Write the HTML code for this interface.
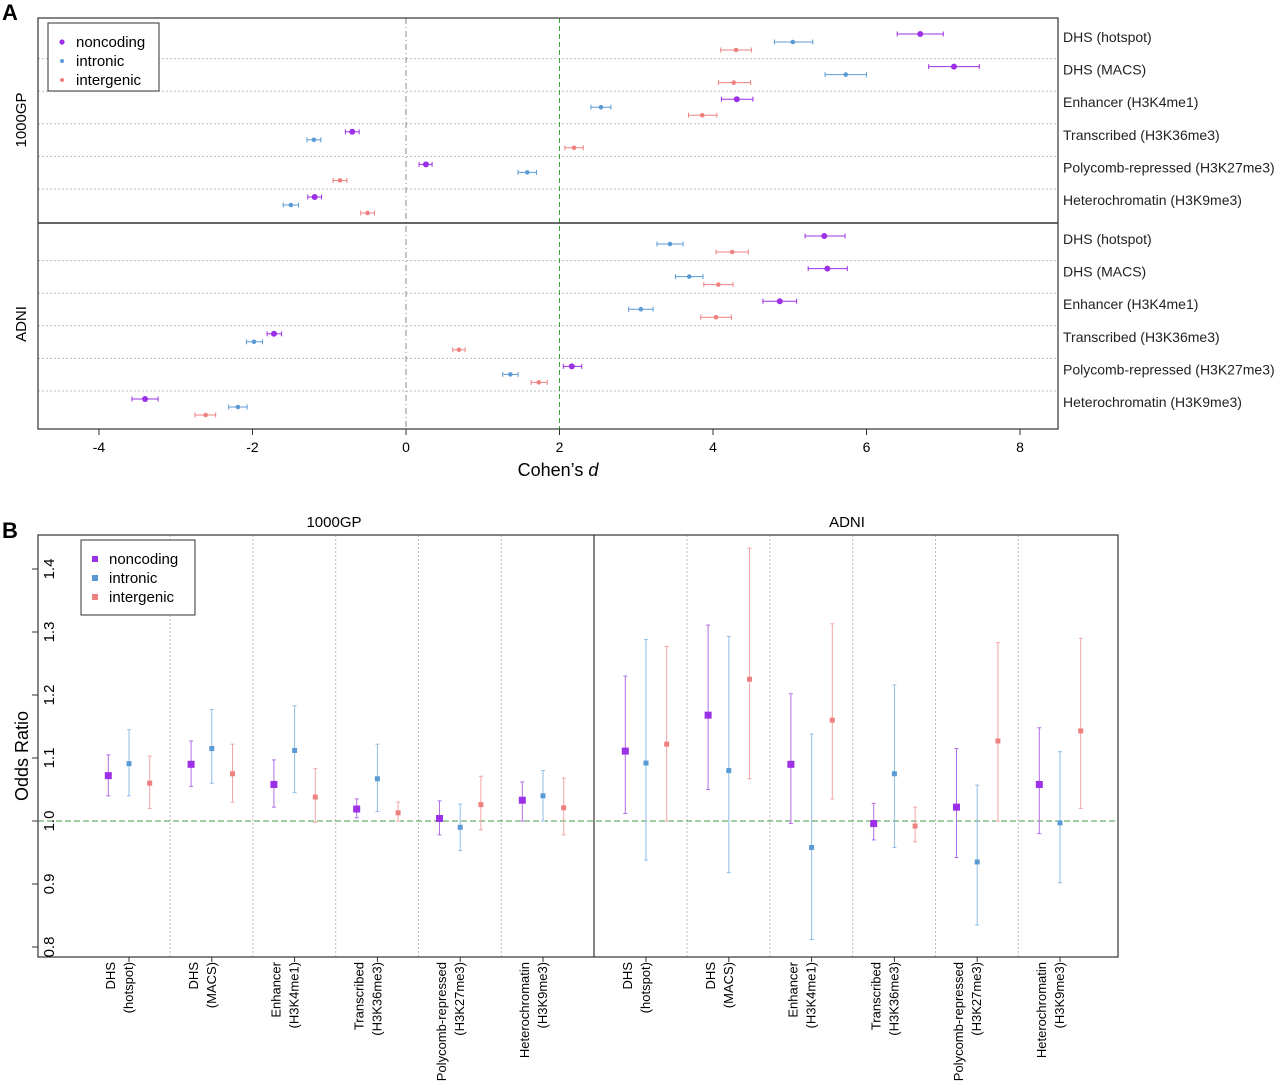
<!DOCTYPE html>
<html><head><meta charset="utf-8"><style>
body{margin:0;background:#fff;}
svg{display:block;font-family:"Liberation Sans",sans-serif;}
</style></head><body>
<svg id="fig" width="1280" height="1092"></svg>
<script>
const features = ["DHS (hotspot)","DHS (MACS)","Enhancer (H3K4me1)","Transcribed (H3K36me3)","Polycomb-repressed (H3K27me3)","Heterochromatin (H3K9me3)"];
const featTop = [["DHS","(hotspot)"],["DHS","(MACS)"],["Enhancer","(H3K4me1)"],["Transcribed","(H3K36me3)"],["Polycomb-repressed","(H3K27me3)"],["Heterochromatin","(H3K9me3)"]];
const cohorts = ["1000GP","ADNI"];
const seriesNames = ["noncoding","intronic","intergenic"];
// Panel A Cohen's d: [feature][series] = [est, lo, hi]
const dGP = [
 [[6.70,6.40,7.00],[5.04,4.80,5.30],[4.30,4.10,4.50]],
 [[7.14,6.81,7.47],[5.73,5.46,6.00],[4.27,4.07,4.49]],
 [[4.31,4.11,4.52],[2.54,2.41,2.67],[3.86,3.68,4.05]],
 [[-0.70,-0.79,-0.61],[-1.20,-1.29,-1.11],[2.19,2.07,2.31]],
 [[0.26,0.17,0.34],[1.58,1.46,1.70],[-0.86,-0.95,-0.77]],
 [[-1.19,-1.28,-1.10],[-1.50,-1.60,-1.40],[-0.50,-0.59,-0.41]]];
const dADNI = [
 [[5.45,5.20,5.72],[3.44,3.27,3.61],[4.25,4.04,4.46]],
 [[5.49,5.24,5.75],[3.69,3.51,3.87],[4.07,3.88,4.26]],
 [[4.87,4.65,5.09],[3.06,2.90,3.22],[4.04,3.84,4.24]],
 [[-1.72,-1.81,-1.62],[-1.98,-2.08,-1.87],[0.69,0.61,0.77]],
 [[2.16,2.05,2.29],[1.36,1.26,1.46],[1.73,1.63,1.84]],
 [[-3.40,-3.57,-3.23],[-2.19,-2.31,-2.07],[-2.61,-2.75,-2.48]]];
const dTicks = [-4,-2,0,2,4,6,8];
// Panel B odds ratios [feature][series] = [est, lo, hi]
const orGP = [
 [[1.072,1.040,1.105],[1.091,1.040,1.145],[1.060,1.020,1.103]],
 [[1.090,1.055,1.127],[1.115,1.060,1.177],[1.075,1.030,1.122]],
 [[1.058,1.022,1.097],[1.112,1.045,1.183],[1.038,0.998,1.083]],
 [[1.019,1.005,1.035],[1.067,1.015,1.122],[1.013,1.000,1.030]],
 [[1.004,0.978,1.032],[0.990,0.953,1.027],[1.026,0.986,1.071]],
 [[1.033,1.000,1.062],[1.040,1.000,1.080],[1.021,0.978,1.068]]];
const orADNI = [
 [[1.111,1.012,1.230],[1.092,0.938,1.288],[1.122,1.000,1.277]],
 [[1.168,1.050,1.311],[1.080,0.918,1.293],[1.225,1.067,1.433]],
 [[1.090,0.996,1.202],[0.958,0.812,1.138],[1.160,1.035,1.313]],
 [[0.996,0.970,1.028],[1.075,0.958,1.216],[0.992,0.967,1.022]],
 [[1.022,0.942,1.115],[0.935,0.835,1.057],[1.127,1.000,1.283]],
 [[1.058,0.980,1.148],[0.997,0.902,1.110],[1.143,1.020,1.290]]];
const orTicks = [0.8,0.9,1.0,1.1,1.2,1.3,1.4];

const colors = ["#9b30e6","#5b9bd5","#ee8080"];
const barColorsB = ["#b26de8","#8fbde6","#f2a5a5"];
const NS="http://www.w3.org/2000/svg";
const svg=document.getElementById('fig');
function mk(tag,attrs,parent,name,inter){const e=document.createElementNS(NS,tag);for(const k in attrs)e.setAttribute(k,attrs[k]);
 
 
 (parent||svg).appendChild(e);return e;}
function txt(s,attrs,name,parent){const e=mk('text',attrs,parent,name,false);e.textContent=s;return e;}

// ---------- Panel A ----------
const xA=v=>406+v*76.75;
const AL=38,AR=1058,AT=18,AB=429,AM=223;
const yA=(c,f,s)=>(c?236:34)+f*32.6+s*8;
txt("A",{x:2,y:20,"font-size":22,"font-weight":"bold"},"panel-a-label");
const gA=mk('g',{},svg,'panel-a-plot',false);
for(let c=0;c<2;c++)for(let f=1;f<6;f++){const y=yA(c,f,0)-8;
 mk('line',{x1:AL,x2:AR,y1:y,y2:y,stroke:"#bbb","stroke-dasharray":"2,2"},gA,'row-separator',false);}
mk('line',{x1:xA(0),x2:xA(0),y1:AT,y2:AB,stroke:"#888","stroke-dasharray":"6,3,1,3"},gA,'zero-line',false);
mk('line',{x1:xA(2),x2:xA(2),y1:AT,y2:AB,stroke:"#3aa03a","stroke-dasharray":"5,3"},gA,'threshold-line',false);
[dGP,dADNI].forEach((D,c)=>{
 D.forEach((row,f)=>row.forEach((v,s)=>{
  const y=yA(c,f,s),col=colors[s];
  const g=mk('g',{},gA,`point-${cohorts[c]}-${seriesNames[s]}-${f}`,false);
  mk('line',{x1:xA(v[1]),x2:xA(v[2]),y1:y,y2:y,stroke:col,"stroke-width":1},g,'error-bar',false);
  mk('line',{x1:xA(v[1]),x2:xA(v[1]),y1:y-2.5,y2:y+2.5,stroke:col},g,'error-cap',false);
  mk('line',{x1:xA(v[2]),x2:xA(v[2]),y1:y-2.5,y2:y+2.5,stroke:col},g,'error-cap',false);
  mk('circle',{cx:xA(v[0]),cy:y,r:s==0?3:2.3,fill:col},g,'point-marker',false);
 }));
 features.forEach((f,i)=>txt(f,{x:1063,y:yA(c,i,0)+8,"font-size":14,fill:"#222"},'feature-label'));
});
mk('rect',{x:AL,y:AT,width:AR-AL,height:AB-AT,fill:"none",stroke:"#333","stroke-width":1.2},gA,'panel-a-frame',false);
mk('line',{x1:AL,x2:AR,y1:AM,y2:AM,stroke:"#333","stroke-width":1.5},gA,'cohort-divider',false);
txt("1000GP",{transform:"translate(26,120) rotate(-90)","text-anchor":"middle","font-size":15},'cohort-label-1000gp');
txt("ADNI",{transform:"translate(26,324) rotate(-90)","text-anchor":"middle","font-size":15},'cohort-label-adni');
dTicks.forEach(t=>{mk('line',{x1:xA(t),x2:xA(t),y1:AB,y2:AB+6,stroke:"#333"},svg,'x-tick',false);
 txt(String(t),{x:xA(t),y:452,"text-anchor":"middle","font-size":14},'x-tick-label');});
const xt=txt("Cohen’s ",{x:558,y:476,"text-anchor":"middle","font-size":18},'x-axis-title');
const it=document.createElementNS(NS,'tspan');it.setAttribute('font-style','italic');it.textContent='d';xt.appendChild(it);
const lA=mk('g',{},svg,'legend-a',false);
mk('rect',{x:48,y:23,width:111,height:68,fill:"#fff",stroke:"#333"},lA,'legend-box',false);
seriesNames.forEach((n,i)=>{mk('circle',{cx:62,cy:42+i*19,r:i?2:2.6,fill:colors[i]},lA,'legend-marker',false);
 txt(n,{x:76,y:47+i*19,"font-size":15},'legend-entry',lA);});

// ---------- Panel B ----------
const BL=38,BR=1118,BT=535,BB=957,BM=594;
const yB=v=>821-(v-1)*630;
const xB=(c,f,s)=>(c?646:129)+f*82.8+(s-1)*20.7;
txt("B",{x:2,y:538,"font-size":22,"font-weight":"bold"},"panel-b-label");
const gB=mk('g',{},svg,'panel-b-plot',false);
for(let c=0;c<2;c++)for(let f=1;f<6;f++){const x=xB(c,f,0)-21;
 mk('line',{x1:x,x2:x,y1:BT,y2:BB,stroke:"#bbb","stroke-dasharray":"2,2"},gB,'group-separator',false);}
mk('line',{x1:BL,x2:BR,y1:yB(1),y2:yB(1),stroke:"#4a9a4a","stroke-dasharray":"6,3"},gB,'reference-line',false);
[orGP,orADNI].forEach((D,c)=>{
 D.forEach((row,f)=>row.forEach((v,s)=>{
  const x=xB(c,f,s);
  const g=mk('g',{},gB,`or-${cohorts[c]}-${seriesNames[s]}-${f}`,false);
  mk('line',{x1:x,x2:x,y1:yB(v[1]),y2:yB(v[2]),stroke:barColorsB[s]},g,'error-bar',false);
  mk('line',{x1:x-2,x2:x+2,y1:yB(v[1]),y2:yB(v[1]),stroke:barColorsB[s]},g,'error-cap',false);
  mk('line',{x1:x-2,x2:x+2,y1:yB(v[2]),y2:yB(v[2]),stroke:barColorsB[s]},g,'error-cap',false);
  const sz=s==0?7:5;
  mk('rect',{x:x-sz/2,y:yB(v[0])-sz/2,width:sz,height:sz,fill:colors[s]},g,'point-marker',false);
 }));
 featTop.forEach((lines,f)=>{const cx=xB(c,f,1);
  mk('line',{x1:cx,x2:cx,y1:BB,y2:BB+5,stroke:"#333"},svg,'x-tick',false);
  lines.forEach((l,k)=>txt(l,{transform:`translate(${cx-14+k*18},962) rotate(-90)`,"text-anchor":"end","font-size":13},'group-label'));});
});
mk('rect',{x:BL,y:BT,width:BR-BL,height:BB-BT,fill:"none",stroke:"#333","stroke-width":1.2},gB,'panel-b-frame',false);
mk('line',{x1:BM,x2:BM,y1:BT,y2:BB,stroke:"#333","stroke-width":1.2},gB,'cohort-divider',false);
txt("1000GP",{x:334,y:527,"text-anchor":"middle","font-size":15},'cohort-title-1000gp');
txt("ADNI",{x:847,y:527,"text-anchor":"middle","font-size":15},'cohort-title-adni');
orTicks.forEach(t=>{mk('line',{x1:BL-6,x2:BL,y1:yB(t),y2:yB(t),stroke:"#333"},svg,'y-tick',false);
 txt(t.toFixed(1),{transform:`translate(54,${yB(t)}) rotate(-90)`,"text-anchor":"middle","font-size":15},'y-tick-label');});
txt("Odds Ratio",{transform:"translate(28,756) rotate(-90)","text-anchor":"middle","font-size":18},'y-axis-title');
const lB=mk('g',{},svg,'legend-b',false);
mk('rect',{x:81,y:540,width:114,height:75,fill:"#fff",stroke:"#333"},lB,'legend-box',false);
seriesNames.forEach((n,i)=>{mk('rect',{x:92,y:556+i*19,width:6,height:6,fill:colors[i]},lB,'legend-marker',false);
 txt(n,{x:109,y:564+i*19,"font-size":15},'legend-entry',lB);});
</script>
</body></html>
